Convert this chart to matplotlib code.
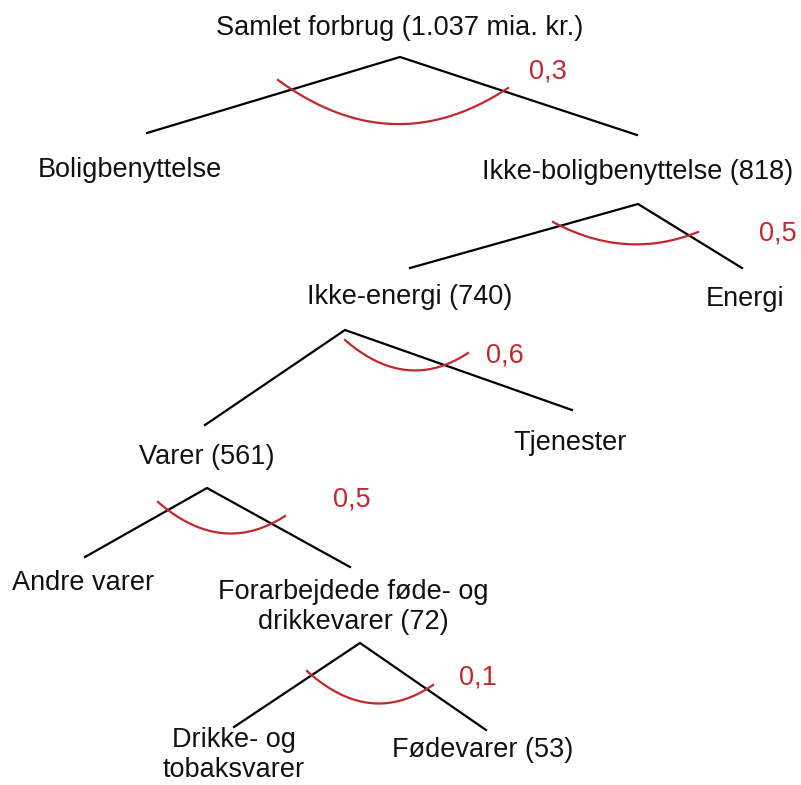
import numpy as np
import matplotlib.pyplot as plt

# =========================================================
# DATA
# =========================================================
labels = [
    "Samlet forbrug (1.037 mia. kr.)",
    "Boligbenyttelse",
    "Ikke-boligbenyttelse (818)",
    "Ikke-energi (740)",
    "Energi",
    "Varer (561)",
    "Tjenester",
    "Andre varer",
    "Forarbejdede føde- og\ndrikkevarer (72)",
    "Drikke- og\ntobaksvarer",
    "Fødevarer (53)",
]
# each split: (parent, left child, right child)
splits = [(0, 1, 2), (2, 3, 4), (3, 5, 6), (5, 7, 8), (8, 9, 10)]
elasticity = [0.3, 0.5, 0.6, 0.5, 0.1]

# =========================================================
# LAYOUT (pixel coords, y downwards)
# =========================================================
label_xy = [(400, 28), (130, 170), (638, 172), (410, 297), (745, 299),
            (207, 457), (570, 443), (83, 583), (353, 607), (234, 755),
            (483, 750)]
apex = [(400, 57), (638, 204), (345, 330), (207, 488), (360, 643)]
left_end = [(147, 133), (410, 268), (205, 425), (85, 557), (234, 727)]
right_end = [(637, 135), (742, 268), (572, 410), (350, 567), (486, 730)]
arc_start = [(278, 80), (553, 222), (345, 340), (158, 502), (307, 671)]
arc_end = [(508, 88), (698, 232), (468, 353), (285, 516), (433, 685)]
arc_bottom = [124, 244, 370, 533, 703]
elast_xy = [(548, 72), (778, 233), (505, 355), (352, 500), (478, 677)]

RED = "#c3272e"
FS = 19.5
plt.rcParams['font.family'] = ['Liberation Sans', 'DejaVu Sans']

fig = plt.figure(figsize=(8.01, 7.85), dpi=100)
ax = fig.add_axes([0, 0, 1, 1])
ax.set_xlim(0, 801)
ax.set_ylim(785, 0)
ax.axis("off")

for i, (p, l, r) in enumerate(splits):
    ax.plot([left_end[i][0], apex[i][0], right_end[i][0]],
            [left_end[i][1], apex[i][1], right_end[i][1]],
            color="black", lw=1.6, solid_joinstyle="miter")
    # red arc as quadratic bezier
    p0 = np.array(arc_start[i], float)
    p2 = np.array(arc_end[i], float)
    ctrl = np.array([(p0[0] + p2[0]) / 2, 2 * arc_bottom[i] - (p0[1] + p2[1]) / 2])
    t = np.linspace(0, 1, 60)[:, None]
    pts = (1 - t) ** 2 * p0 + 2 * (1 - t) * t * ctrl + t ** 2 * p2
    ax.plot(pts[:, 0], pts[:, 1], color=RED, lw=1.6)
    ax.text(elast_xy[i][0], elast_xy[i][1], f"{elasticity[i]:.1f}".replace(".", ","),
            color=RED, fontsize=FS, ha="center", va="center")

for (x, y), s in zip(label_xy, labels):
    ax.text(x, y, s, fontsize=FS, ha="center", va="center", color="#111111",
            linespacing=1.2)

fig.savefig("out.png", dpi=100)
